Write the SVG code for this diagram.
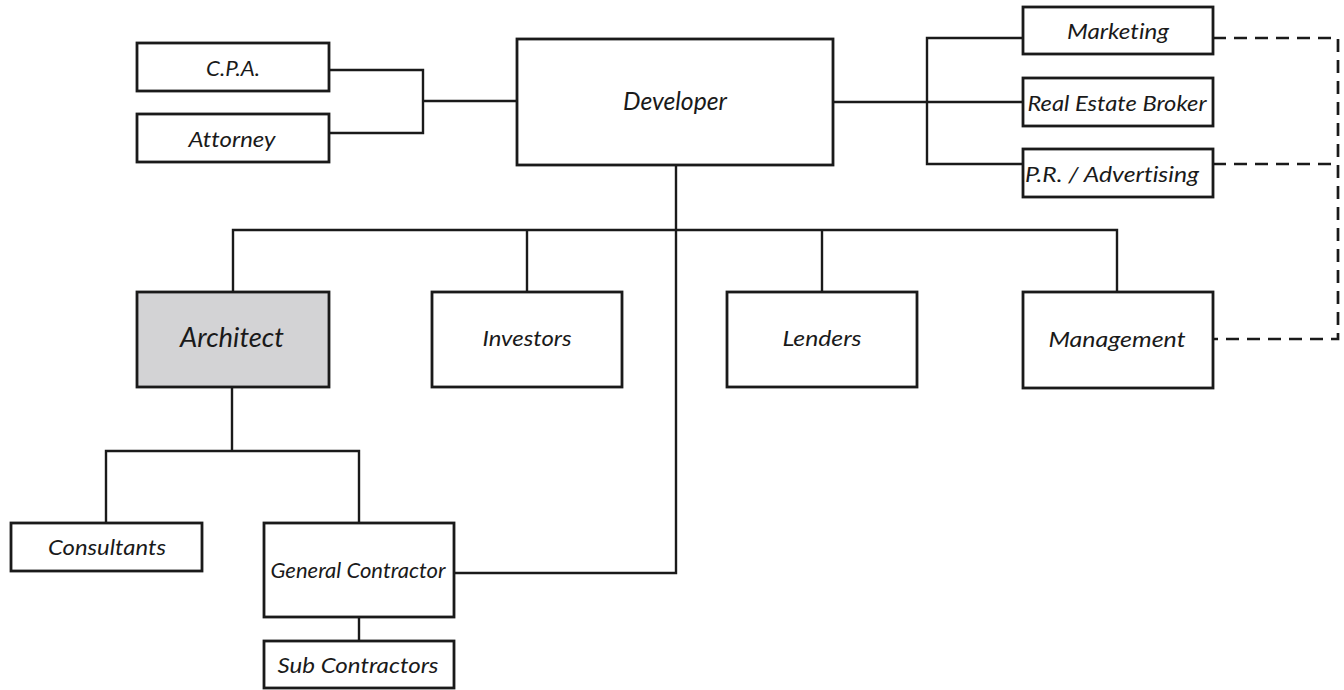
<svg xmlns="http://www.w3.org/2000/svg" width="1344" height="690" viewBox="0 0 1344 690">
  <style>
    .box { fill: #ffffff; stroke: #1a1a1a; stroke-width: 2.8; }
    .shaded { fill: #d3d3d5; }
    .lbl { font-family: Lato, "Open Sans", sans-serif; font-style: italic; font-size: 22px; fill: #1a1a1a; text-anchor: middle; dominant-baseline: central; font-variant-ligatures: none; }
    .big { font-size: 25px; }
    .line { fill: none; stroke: #1a1a1a; stroke-width: 2.4; }
    .dash { fill: none; stroke: #1a1a1a; stroke-width: 2.7; stroke-dasharray: 13 8; }
  </style>
  <rect width="1344" height="690" fill="#ffffff"/>

  <!-- connectors -->
  <g id="connectors">
    <!-- advisors to developer -->
    <path class="line" d="M329,70 H423 V133 H329 M423,101 H517"/>
    <!-- developer to marketing group -->
    <path class="line" d="M833,102 H1023 M1023,38 H927 V164 H1023"/>
    <!-- developer down to the main branch -->
    <path class="line" d="M676,165 V573 H454"/>
    <path class="line" d="M233,292 V230 H1117 V292 M527,230 V292 M822,230 V292"/>
    <!-- architect to consultants and contractor -->
    <path class="line" d="M232,387 V451 M106,523 V451 H359 V523"/>
    <path class="line" d="M359,617 V641"/>
    <!-- dashed coordination link -->
    <path class="dash" d="M1213,38 H1338 V339 H1213"/>
    <path class="dash" d="M1213,164 H1338"/>
  </g>

  <g id="cpa">
    <rect class="box" x="137" y="43" width="192" height="48"/>
    <text class="lbl" x="233" y="67" textLength="54" lengthAdjust="spacingAndGlyphs">C.P.A.</text>
  </g>
  <g id="attorney">
    <rect class="box" x="137" y="114" width="192" height="48"/>
    <text class="lbl" x="232" y="138" textLength="87" lengthAdjust="spacingAndGlyphs">Attorney</text>
  </g>
  <g id="developer">
    <rect class="box" x="517" y="39" width="316" height="126"/>
    <text class="lbl big" x="675" y="100" textLength="104" lengthAdjust="spacingAndGlyphs">Developer</text>
  </g>
  <g id="marketing">
    <rect class="box" x="1023" y="7" width="190" height="47"/>
    <text class="lbl" x="1118" y="30" textLength="102" lengthAdjust="spacingAndGlyphs">Marketing</text>
  </g>
  <g id="broker">
    <rect class="box" x="1023" y="78" width="190" height="48"/>
    <text class="lbl" x="1117" y="102" textLength="179" lengthAdjust="spacingAndGlyphs">Real Estate Broker</text>
  </g>
  <g id="pr">
    <rect class="box" x="1023" y="149" width="190" height="48"/>
    <text class="lbl" x="1112" y="173" textLength="174" lengthAdjust="spacingAndGlyphs">P.R. / Advertising</text>
  </g>
  <g id="architect">
    <rect class="box shaded" x="137" y="292" width="192" height="95"/>
    <text class="lbl" x="232" y="336" style="font-size:27px" textLength="104" lengthAdjust="spacingAndGlyphs">Architect</text>
  </g>
  <g id="investors">
    <rect class="box" x="432" y="292" width="190" height="95"/>
    <text class="lbl" x="527" y="337" textLength="89" lengthAdjust="spacingAndGlyphs">Investors</text>
  </g>
  <g id="lenders">
    <rect class="box" x="727" y="292" width="190" height="95"/>
    <text class="lbl" x="822" y="337" textLength="79" lengthAdjust="spacingAndGlyphs">Lenders</text>
  </g>
  <g id="management">
    <rect class="box" x="1023" y="292" width="190" height="96"/>
    <text class="lbl" x="1117" y="338" textLength="137" lengthAdjust="spacingAndGlyphs">Management</text>
  </g>
  <g id="consultants">
    <rect class="box" x="11" y="523" width="191" height="48"/>
    <text class="lbl" x="107" y="546" textLength="118" lengthAdjust="spacingAndGlyphs">Consultants</text>
  </g>
  <g id="general-contractor">
    <rect class="box" x="264" y="523" width="190" height="94"/>
    <text class="lbl" x="358" y="569" textLength="175" lengthAdjust="spacingAndGlyphs">General Contractor</text>
  </g>
  <g id="sub-contractors">
    <rect class="box" x="264" y="641" width="190" height="47"/>
    <text class="lbl" x="358" y="664" textLength="161" lengthAdjust="spacingAndGlyphs">Sub Contractors</text>
  </g>
</svg>
